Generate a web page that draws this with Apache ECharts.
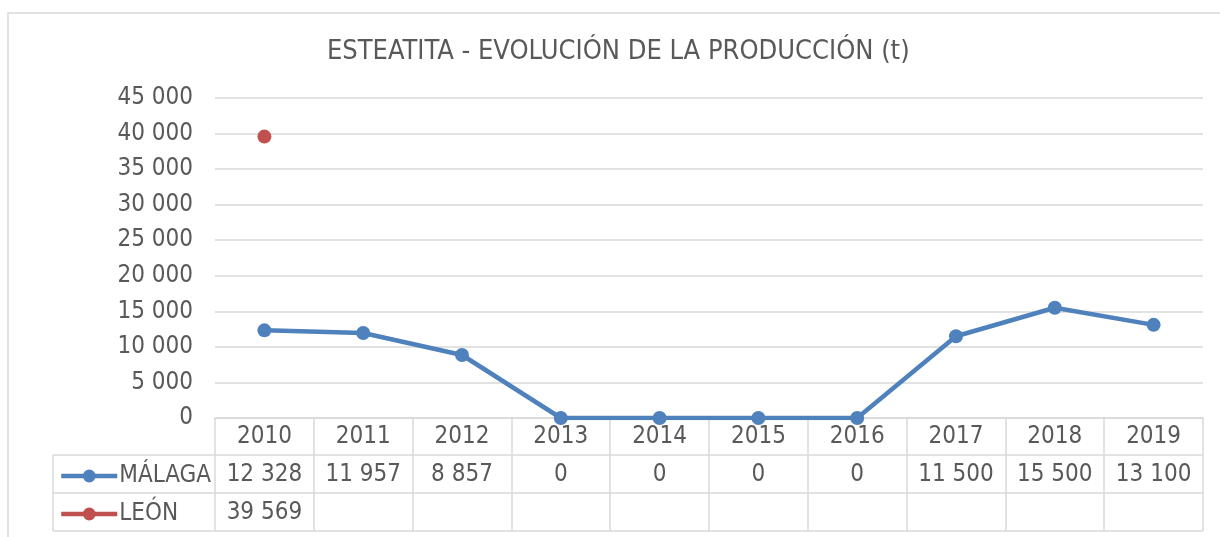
<!DOCTYPE html>
<html>
<head>
<meta charset="utf-8">
<script src="https://cdn.jsdelivr.net/npm/echarts@6/dist/echarts.min.js"></script>
<style>
  html, body { margin: 0; padding: 0; background: #fff; }
  #chart { width: 1220px; height: 537px; }
</style>
</head>
<body>
<div id="chart"></div>
<script>
const years = ['2010', '2011', '2012', '2013', '2014', '2015', '2016', '2017', '2018', '2019'];
const malaga = [12328, 11957, 8857, 0, 0, 0, 0, 11500, 15500, 13100];
const leon = [39569, null, null, null, null, null, null, null, null, null];
const seriesNames = ['MÁLAGA', 'LEÓN'];

const FONT = '"DejaVu Sans Condensed", "DejaVu Sans", sans-serif';
const TXT = '#595959';
const GRID = '#d9d9d9';
const COLORS = ['#4f81bd', '#c0504d'];

function fmt(v) {
    if (v === null || v === undefined) return ' ';
    return String(v).replace(/\B(?=(\d{3})+(?!\d))/g, ' ');
}

// límites de la zona de trazado y de la tabla
const L = 215, R = 1203, TOP = 98, AXIS = 418, ROW = 38;

let myChart = echarts.init(document.getElementById('chart'));

let option = {
    animation: false,
    textStyle: { fontFamily: FONT },
    title: {
        text: 'ESTEATITA - EVOLUCIÓN DE LA PRODUCCIÓN (t)',
        left: 327,
        top: 38,
        padding: 0,
        textStyle: { fontFamily: FONT, fontSize: 27, fontWeight: 'normal', color: TXT }
    },
    grid: { left: L, right: 1220 - R, top: TOP, bottom: 537 - AXIS, containLabel: false },
    legend: [0, 1].map(i => ({
        data: [seriesNames[i]],
        orient: 'vertical',
        left: 59,
        top: AXIS + ROW * (i + 1) + 8,
        padding: 0,
        itemWidth: 56,
        itemHeight: 16,
        itemGap: 0,
        lineStyle: { width: 4.5 },
        textStyle: { fontFamily: FONT, fontSize: 24, color: TXT, padding: [0, 0, 0, -3] }
    })),
    xAxis: {
        type: 'category',
        data: years,
        boundaryGap: true,
        axisLine: { lineStyle: { color: GRID, width: 1.5 } },
        axisTick: { show: true, length: ROW * 3 - 1, interval: 0, lineStyle: { color: GRID, width: 1.5 } },
        axisLabel: {
            interval: 0,
            margin: 0,
            formatter: (val, idx) => '{c|' + val + '}\n{c|' + fmt(malaga[idx]) + '}\n{c|' + fmt(leon[idx]) + '}',
            rich: {
                c: { fontFamily: FONT, fontSize: 24, color: TXT, lineHeight: ROW, height: ROW, align: 'center' }
            }
        }
    },
    yAxis: {
        type: 'value',
        min: 0,
        max: 45000,
        interval: 5000,
        axisLine: { show: false },
        axisTick: { show: false },
        axisLabel: { margin: 22, fontFamily: FONT, fontSize: 24, color: TXT, formatter: v => fmt(v) },
        splitLine: { lineStyle: { color: GRID, width: 1.5 } }
    },
    series: [malaga, leon].map((d, i) => ({
        name: seriesNames[i],
        type: 'line',
        data: d,
        symbol: 'circle',
        symbolSize: 14,
        color: COLORS[i],
        lineStyle: { width: 4.5, color: COLORS[i] },
        itemStyle: { color: COLORS[i] }
    })),
    graphic: [
        // marco del gráfico
        { type: 'rect', shape: { x: 8, y: 13, width: 1400, height: 700 }, style: { fill: null, stroke: GRID, lineWidth: 1.5 }, silent: true },
        // líneas horizontales de la tabla de datos
        { type: 'line', shape: { x1: 53, y1: AXIS + ROW - 1, x2: R, y2: AXIS + ROW - 1 }, style: { stroke: GRID, lineWidth: 1.5 } },
        { type: 'line', shape: { x1: 53, y1: AXIS + 2 * ROW - 1, x2: R, y2: AXIS + 2 * ROW - 1 }, style: { stroke: GRID, lineWidth: 1.5 } },
        { type: 'line', shape: { x1: 53, y1: AXIS + 3 * ROW - 1, x2: R, y2: AXIS + 3 * ROW - 1 }, style: { stroke: GRID, lineWidth: 1.5 } },
        { type: 'line', shape: { x1: 53, y1: AXIS + ROW - 1, x2: 53, y2: AXIS + 3 * ROW - 1 }, style: { stroke: GRID, lineWidth: 1.5 } }
    ]
};

myChart.setOption(option);
</script>
</body>
</html>
